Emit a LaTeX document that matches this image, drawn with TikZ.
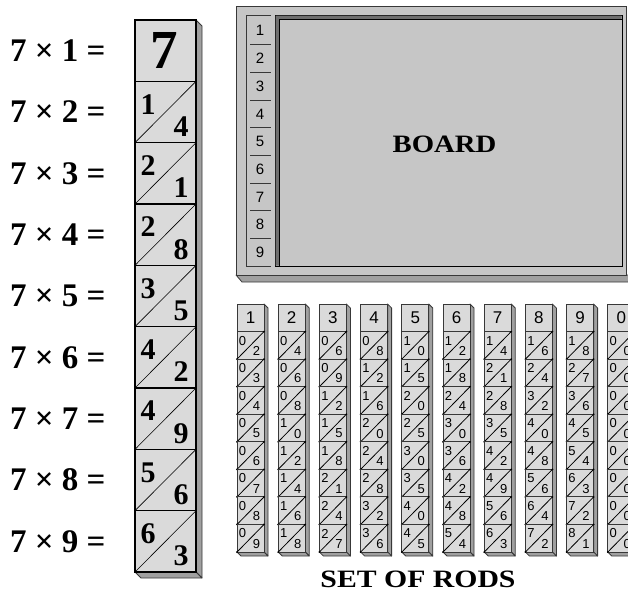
\documentclass[tikz,border=0pt]{standalone}
\usepackage{fontspec}
\setmainfont{Liberation Serif}
\newfontfamily\rodfont{Liberation Sans}
\definecolor{cellfill}{HTML}{DADADA}
\definecolor{boardfill}{HTML}{C6C6C6}
\definecolor{shade}{HTML}{A0A0A0}
\definecolor{edge}{HTML}{383838}
\definecolor{bevel}{HTML}{6E6E6E}
\begin{document}
\begin{tikzpicture}[x=1pt,y=-1pt,
  every node/.style={inner sep=0pt,outer sep=0pt},
  bigcell/.style={draw=black,line width=1.2pt,fill=cellfill,minimum width=61pt,minimum height=61.33pt,anchor=north west},
  bigdiag/.style={draw=black,line width=0.6pt},
  extr/.style={fill=shade,draw=edge,line width=0.8pt,line join=round},
  eqlabel/.style={anchor=west,font=\fontsize{33}{36}\selectfont\bfseries},
  bigdigit/.style={font=\fontsize{30}{32}\selectfont\bfseries},
  topdigit/.style={font=\fontsize{55}{58}\selectfont\bfseries},
  rodcell/.style={draw=edge,line width=1pt,fill=cellfill,minimum width=27pt,minimum height=27.56pt,anchor=north west},
  roddiag/.style={draw=black,line width=0.8pt},
  roddigit/.style={font=\rodfont\fontsize{13}{14}\selectfont},
  rodhead/.style={font=\rodfont\fontsize{17}{18}\selectfont},
  boardnum/.style={font=\rodfont\fontsize{15}{16}\selectfont},
  title/.style={font=\fontsize{25}{28}\selectfont\bfseries}
]
\useasboundingbox (0,0) rectangle (628,595);
\begin{scope}
\clip (0,0) rectangle (628,595);
% ---------- big rod of 7 ----------
\path[extr] (196,20) -- (202,26) -- (202,578) -- (196,572) -- cycle;
\path[extr] (135,572) -- (196,572) -- (202,578) -- (141,578) -- cycle;
\foreach \r in {1,...,9}{
  \pgfmathsetmacro{\yt}{20+(\r-1)*61.333}
  \pgfmathsetmacro{\yc}{20+(\r-0.5)*61.333}
  \pgfmathtruncatemacro{\p}{7*\r}
  \pgfmathtruncatemacro{\tn}{\p/10}
  \pgfmathtruncatemacro{\un}{\p-10*\tn}
  \node[eqlabel] (eq\r) at (10,\yc) {7 × \r\ =};
  \node[bigcell] (bc\r) at (135,\yt) {};
  \ifnum\r=1
    \node[topdigit] (bt\r) at (164,\yc) {7};
  \else
    \draw[bigdiag] (bc\r.south west) -- (bc\r.north east);
    \node[bigdigit] (bt\r) at (148,\yt+23) {\tn};
    \node[bigdigit] (bu\r) at (181,\yt+45.3) {\un};
  \fi
}
% ---------- board ----------
\path[extr] (236,275) -- (242,282) -- (632,282) -- (632,275) -- cycle;
\node[draw=edge,line width=1pt,fill=boardfill,minimum width=390pt,minimum height=269pt,anchor=north west] (board) at (236,6) {};
\draw[edge,line width=1pt] (271,15) -- (246,15) -- (246,266) -- (271,266);
\foreach \n in {1,...,9}{
  \node[boardnum] (bn\n) at (260,{17+27.67*(\n-0.5)}) {\n};
}
\foreach \n in {1,...,8}{
  \draw[edge,line width=1pt] (250,{17+27.67*\n}) -- (271,{17+27.67*\n});
}
\node[draw=black,line width=1pt,fill=boardfill,minimum width=347pt,minimum height=251pt,anchor=north west] (area) at (275,15) {};
\fill[bevel] (275.5,15.5) -- (621.5,15.5) -- (621.5,19.5) -- (279.5,19.5) -- (279.5,265.5) -- (275.5,265.5) -- cycle;
\draw[black,line width=0.7pt] (279.5,265.5) -- (279.5,19.5) -- (621.5,19.5);
\node[title] (boardlbl) at (444.5,144.5) {\scalebox{1.15}[1]{BOARD}};
% ---------- set of rods ----------
\foreach \k [count=\i from 0] in {1,2,3,4,5,6,7,8,9,0}{
  \pgfmathsetmacro{\xo}{237+41.2*\i}
  \path[extr] (\xo+27,304) -- (\xo+31,308) -- (\xo+31,556) -- (\xo+27,552) -- cycle;
  \path[extr] (\xo,552) -- (\xo+27,552) -- (\xo+31,556) -- (\xo+4,556) -- cycle;
  \node[rodcell,rodhead] (h\i) at (\xo,304) {\k};
  \foreach \r [count=\j] in {2,...,9}{
    \pgfmathtruncatemacro{\p}{\k*\r}
    \pgfmathtruncatemacro{\tn}{\p/10}
    \pgfmathtruncatemacro{\un}{\p-10*\tn}
    \pgfmathsetmacro{\yt}{304+27.56*\j}
    \node[rodcell] (c\i-\j) at (\xo,\yt) {};
    \draw[roddiag] (c\i-\j.south west) -- (c\i-\j.north east);
    \fill (c\i-\j.south west) circle (1);
    \fill (c\i-\j.north east) circle (1);
    \node[roddigit] (t\i-\j) at (\xo+5.5,\yt+9) {\tn};
    \node[roddigit] (u\i-\j) at (\xo+19.5,\yt+19.3) {\un};
  }
}
\node[title] (setlbl) at (418,579) {\scalebox{1.19}[1]{SET OF RODS}};
\end{scope}
\end{tikzpicture}
\end{document}
